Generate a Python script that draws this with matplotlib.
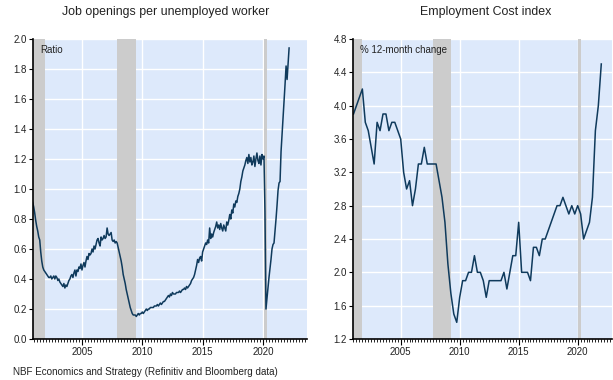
"""Two-panel labour market chart: job openings per unemployed worker (monthly)
and the Employment Cost Index, % 12-month change (quarterly)."""

import matplotlib
matplotlib.use("Agg")
import matplotlib.pyplot as plt
from matplotlib.ticker import MultipleLocator, FuncFormatter
import numpy as np

plt.rcParams["font.family"] = ["Liberation Sans", "DejaVu Sans"]

# --- job openings / unemployed, monthly from Dec 2000 -----------------------
JOBS_START = 2000 + 11 / 12  # Dec 2000
jobs_ratio = [
    0.91,
    # 2001
    0.88, 0.84, 0.79, 0.75, 0.72, 0.68, 0.66, 0.58, 0.52, 0.48, 0.46, 0.45,
    # 2002
    0.44, 0.43, 0.42, 0.41, 0.41, 0.42, 0.40, 0.41, 0.42, 0.40, 0.42, 0.41,
    # 2003
    0.39, 0.40, 0.38, 0.37, 0.36, 0.35, 0.37, 0.34, 0.36, 0.35, 0.37, 0.39,
    # 2004
    0.40, 0.42, 0.43, 0.41, 0.44, 0.46, 0.42, 0.46, 0.45, 0.48, 0.47, 0.50,
    # 2005
    0.46, 0.49, 0.51, 0.48, 0.52, 0.55, 0.53, 0.57, 0.56, 0.57, 0.60, 0.58,
    # 2006
    0.62, 0.60, 0.63, 0.66, 0.67, 0.64, 0.62, 0.68, 0.66, 0.67, 0.69, 0.67,
    # 2007
    0.68, 0.74, 0.70, 0.69, 0.70, 0.71, 0.66, 0.65, 0.66, 0.64, 0.65, 0.64,
    # 2008
    0.61, 0.58, 0.55, 0.52, 0.48, 0.43, 0.40, 0.37, 0.33, 0.30, 0.27, 0.24,
    # 2009
    0.21, 0.19, 0.17, 0.16, 0.16, 0.16, 0.15, 0.16, 0.17, 0.16, 0.17, 0.17,
    # 2010
    0.18, 0.17, 0.18, 0.19, 0.20, 0.19, 0.20, 0.20, 0.21, 0.21, 0.21, 0.21,
    # 2011
    0.22, 0.22, 0.22, 0.23, 0.22, 0.23, 0.24, 0.23, 0.24, 0.25, 0.25, 0.26,
    # 2012
    0.27, 0.28, 0.29, 0.28, 0.30, 0.29, 0.31, 0.30, 0.30, 0.30, 0.31, 0.31,
    # 2013
    0.31, 0.32, 0.31, 0.32, 0.33, 0.33, 0.34, 0.33, 0.35, 0.34, 0.35, 0.36,
    # 2014
    0.37, 0.39, 0.40, 0.41, 0.43, 0.46, 0.49, 0.53, 0.51, 0.54, 0.55, 0.52,
    # 2015
    0.58, 0.60, 0.62, 0.64, 0.63, 0.66, 0.64, 0.74, 0.67, 0.70, 0.68, 0.71,
    # 2016
    0.73, 0.75, 0.78, 0.74, 0.76, 0.73, 0.77, 0.74, 0.72, 0.76, 0.74, 0.72,
    # 2017
    0.78, 0.76, 0.79, 0.83, 0.80, 0.86, 0.84, 0.90, 0.88, 0.92, 0.91, 0.95,
    # 2018
    0.97, 1.00, 1.05, 1.08, 1.12, 1.14, 1.16, 1.19, 1.21, 1.17, 1.23, 1.18,
    # 2019
    1.21, 1.16, 1.18, 1.22, 1.15, 1.20, 1.24, 1.19, 1.17, 1.22, 1.16, 1.23,
    # 2020
    1.20, 1.22, 0.85, 0.20, 0.27, 0.34, 0.41, 0.47, 0.53, 0.60, 0.63, 0.64,
    # 2021
    0.72, 0.80, 0.89, 0.99, 1.04, 1.05, 1.25, 1.36, 1.46, 1.58, 1.70, 1.82,
    # 2022
    1.73, 1.84, 1.94,
]

# --- ECI, % y/y, quarterly from Q1 2001 -------------------------------------
ECI_START = 2001.0
eci_yoy = [
    3.9, 4.0, 4.1, 4.2,   # 2001
    3.8, 3.7, 3.5, 3.3,   # 2002
    3.8, 3.7, 3.9, 3.9,   # 2003
    3.7, 3.8, 3.8, 3.7,   # 2004
    3.6, 3.2, 3.0, 3.1,   # 2005
    2.8, 3.0, 3.3, 3.3,   # 2006
    3.5, 3.3, 3.3, 3.3,   # 2007
    3.3, 3.1, 2.9, 2.6,   # 2008
    2.1, 1.75, 1.5, 1.4,  # 2009
    1.7, 1.9, 1.9, 2.0,   # 2010
    2.0, 2.2, 2.0, 2.0,   # 2011
    1.9, 1.7, 1.9, 1.9,   # 2012
    1.9, 1.9, 1.9, 2.0,   # 2013
    1.8, 2.0, 2.2, 2.2,   # 2014
    2.6, 2.0, 2.0, 2.0,   # 2015
    1.9, 2.3, 2.3, 2.2,   # 2016
    2.4, 2.4, 2.5, 2.6,   # 2017
    2.7, 2.8, 2.8, 2.9,   # 2018
    2.8, 2.7, 2.8, 2.7,   # 2019
    2.8, 2.7, 2.4, 2.5,   # 2020
    2.6, 2.9, 3.7, 4.0,   # 2021
    4.5,                  # 2022
]

# NBER recessions as (start, end) in decimal years
recessions_monthly = [(2000.92, 2001.92), (2007.92, 2009.5), (2020.08, 2020.33)]
recessions_quarterly = [(2001.0, 2001.75), (2007.7, 2009.25), (2020.02, 2020.3)]

LINE = "#0f3a5c"
BG = "#dde9fb"
SHADE = "#cccccc"
TEXT = "#222222"


def style_axis(ax, xlim, ylim, ystep, recessions):
    ax.set_facecolor(BG)
    ax.set_xlim(*xlim)
    ax.set_ylim(*ylim)
    for a, b in recessions:
        ax.axvspan(a, b, color=SHADE, lw=0, zorder=1)
    ax.set_axisbelow(True)
    ax.grid(True, which="major", color="white", lw=1.0)
    ax.xaxis.set_major_locator(MultipleLocator(5))
    ax.xaxis.set_minor_locator(MultipleLocator(0.25))
    ax.xaxis.set_major_formatter(FuncFormatter(lambda v, p: f"{int(round(v))}"))
    ax.yaxis.set_major_locator(MultipleLocator(ystep))
    ax.yaxis.set_major_formatter(FuncFormatter(lambda v, p: f"{v:.1f}"))
    for side in ("top", "right"):
        ax.spines[side].set_visible(False)
    for side in ("left", "bottom"):
        ax.spines[side].set_color("black")
        ax.spines[side].set_linewidth(1.2)
        ax.spines[side].set_zorder(5)
    ax.tick_params(axis="x", which="major", length=4, width=0.8, labelsize=7,
                   pad=1.5, labelcolor=TEXT)
    ax.tick_params(axis="x", which="minor", length=2, width=0.6)
    ax.tick_params(axis="y", length=3, width=0.8, labelsize=7, pad=1.5,
                   labelcolor=TEXT)


fig = plt.figure(figsize=(6.13, 3.80), dpi=100)
ax1 = fig.add_axes([0.0538, 0.1079, 0.447, 0.7895])
ax2 = fig.add_axes([0.5759, 0.1079, 0.4225, 0.7895])

# left panel
style_axis(ax1, (2000.94, 2023.65), (0.0, 2.0), 0.2, recessions_monthly)
x_jobs = JOBS_START + np.arange(len(jobs_ratio)) / 12
ax1.plot(x_jobs, jobs_ratio, color=LINE, lw=1.1, zorder=3)
ax1.text(0.025, 0.963, "Ratio", transform=ax1.transAxes, fontsize=7,
         va="center", ha="left", zorder=4, color=TEXT)

# right panel
style_axis(ax2, (2000.96, 2022.91), (1.2, 4.8), 0.4, recessions_quarterly)
x_eci = ECI_START + np.arange(len(eci_yoy)) / 4
ax2.plot(x_eci, eci_yoy, color=LINE, lw=1.1, zorder=3)
ax2.text(0.028, 0.963, "% 12-month change", transform=ax2.transAxes, fontsize=7,
         va="center", ha="left", zorder=4, color=TEXT)

fig.text(0.271, 0.968, "Job openings per unemployed worker", fontsize=8.9,
         ha="center", va="center", color=TEXT)
fig.text(0.792, 0.968, "Employment Cost index", fontsize=8.9,
         ha="center", va="center", color=TEXT)
fig.text(0.021, 0.022, "NBF Economics and Strategy (Refinitiv and Bloomberg data)",
         fontsize=7.1, ha="left", va="center", color=TEXT)

fig.savefig("out.png", dpi=100)
plt.close(fig)
